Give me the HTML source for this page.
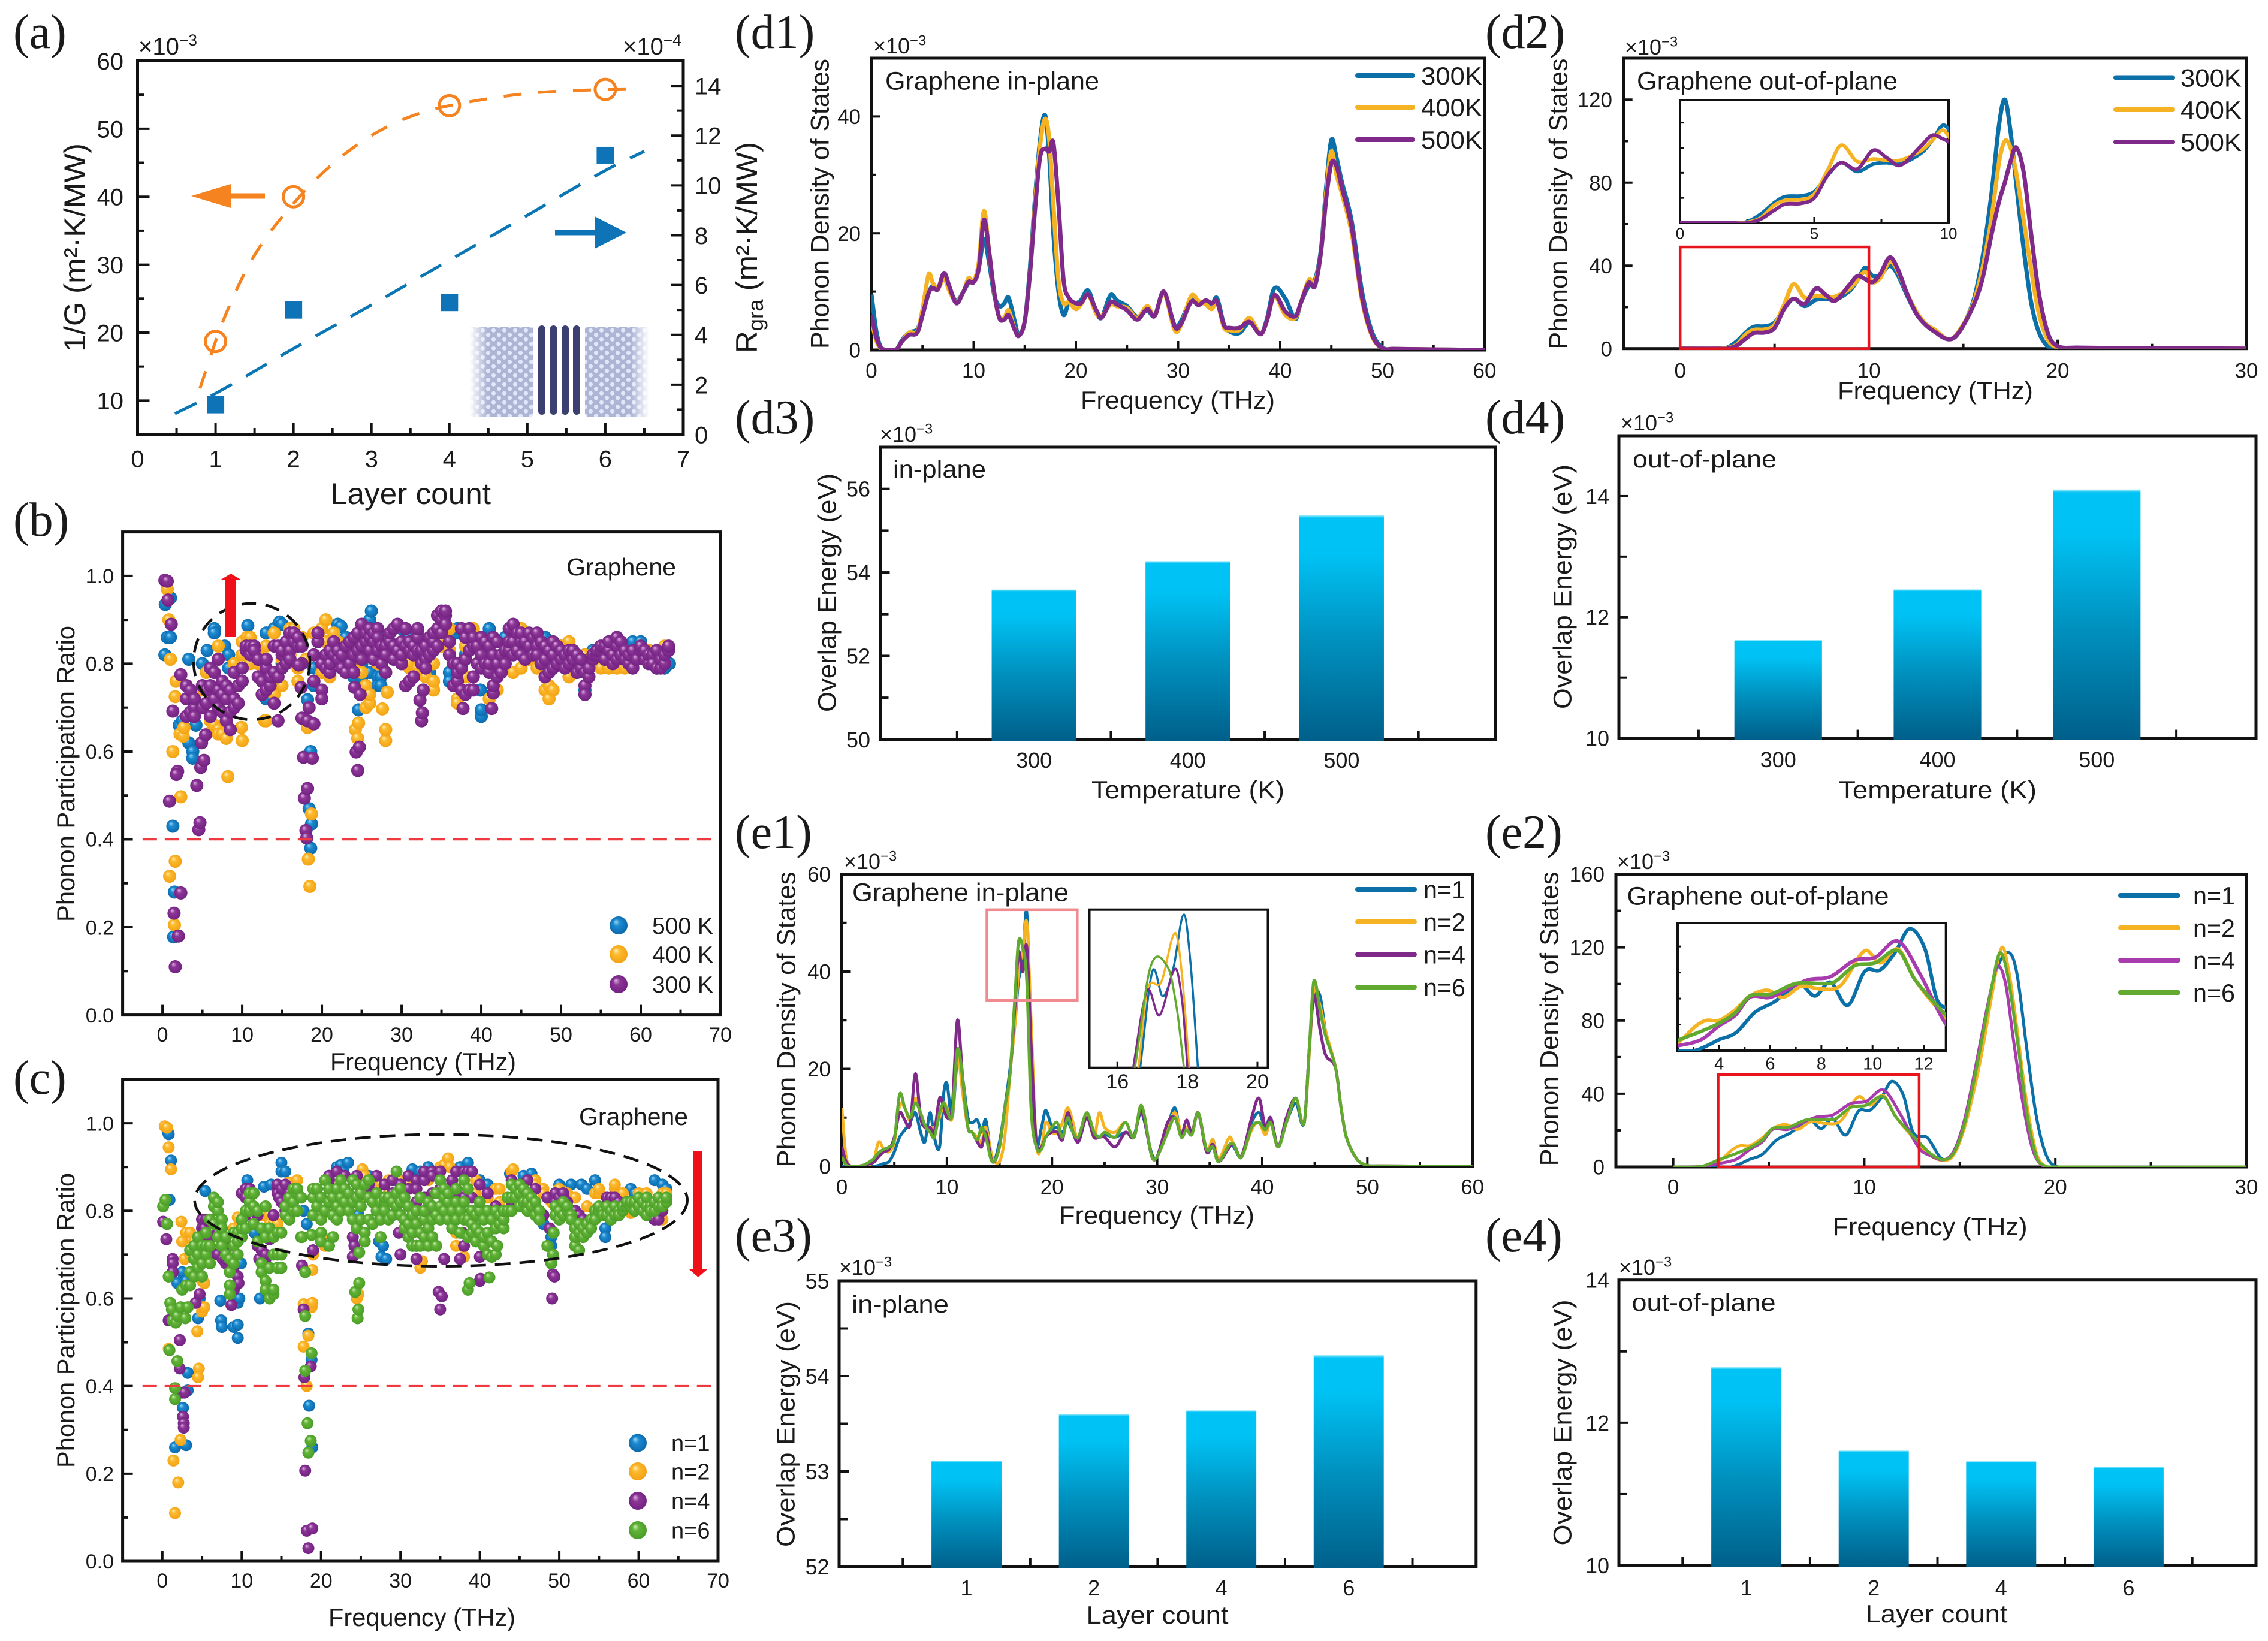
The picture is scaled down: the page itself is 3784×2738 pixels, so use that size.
<!DOCTYPE html>
<html lang="en">
<head>
<meta charset="utf-8">
<title>Phonon analysis of graphene</title>
<style>
html,body{margin:0;padding:0;background:#fff;}
svg{display:block;}
text{font-family:"Liberation Sans",sans-serif;fill:#1a1a1a;}
text.serif{font-family:"Liberation Serif",serif;}
</style>
</head>
<body>
<svg id="figure" xmlns="http://www.w3.org/2000/svg" width="3784" height="2738" viewBox="0 0 3784 2738">
<defs>
<radialGradient id="ball-blue" cx="50%" cy="50%" r="55%" fx="34%" fy="28%"><stop offset="0" stop-color="#9ad6f6"/><stop offset=".35" stop-color="#1c8ad0"/><stop offset="1" stop-color="#0a65a8"/></radialGradient>
<radialGradient id="ball-orange" cx="50%" cy="50%" r="55%" fx="34%" fy="28%"><stop offset="0" stop-color="#fff0b8"/><stop offset=".35" stop-color="#fcb92e"/><stop offset="1" stop-color="#f2a010"/></radialGradient>
<radialGradient id="ball-purple" cx="50%" cy="50%" r="55%" fx="34%" fy="28%"><stop offset="0" stop-color="#e0b8e4"/><stop offset=".35" stop-color="#8c3696"/><stop offset="1" stop-color="#6f1f80"/></radialGradient>
<radialGradient id="ball-green" cx="50%" cy="50%" r="55%" fx="34%" fy="28%"><stop offset="0" stop-color="#cfeeb4"/><stop offset=".35" stop-color="#62b338"/><stop offset="1" stop-color="#479a24"/></radialGradient>
<linearGradient id="bar-fill" x1="0" y1="0" x2="0" y2="1"><stop offset="0" stop-color="#a8effc"/><stop offset=".012" stop-color="#00c3f5"/><stop offset=".18" stop-color="#00c1f3"/><stop offset=".55" stop-color="#0091bf"/><stop offset="1" stop-color="#005f8a"/></linearGradient>
<linearGradient id="fade-left" x1="0" y1="0" x2="1" y2="0"><stop offset="0" stop-color="#fff"/><stop offset=".28" stop-color="#fff" stop-opacity="0"/></linearGradient>
<linearGradient id="fade-right" x1="0" y1="0" x2="1" y2="0"><stop offset=".72" stop-color="#fff" stop-opacity="0"/><stop offset="1" stop-color="#fff"/></linearGradient>
<pattern id="lattice" width="18" height="15" patternUnits="userSpaceOnUse"><rect width="18" height="15" fill="#aeb5d4"/><circle cx="4.5" cy="3.75" r="3.6" fill="#dfe7fa"/><circle cx="13.5" cy="11.25" r="3.6" fill="#dfe7fa"/></pattern>
</defs>
</svg>
<script>
/* ---------- panel (a) ---------- */
const aLayers=[1,2,4,6];
const aInverseG=[18.7,40,53.4,55.8];
const aRgra=[1.2,5.0,5.3,11.2];
const aOrangeFitX=[.8,1.1,1.5,2,2.5,3,3.5,4,5,6,6.35];
const aOrangeFitY=[11.8,21.8,31.4,39,44.8,49,51.8,53.4,55.2,55.8,55.9];
const aBlueFitX=[.48,1,2,3,4,5,6,6.5];
const aBlueFitY=[.84,1.65,3.45,5.2,7,8.8,10.6,11.37];
const aXTicks=[0,1,2,3,4,5,6,7];
const aXMinor=[.5,1.5,2.5,3.5,4.5,5.5,6.5];
const aYTicks=[10,20,30,40,50,60];
const aYMinor=[15,25,35,45,55];
const aY2Ticks=[0,2,4,6,8,10,12,14];
const aY2Minor=[1,3,5,7,9,11,13];

/* ---------- panel (b): rows are [frequency, ratio, ratio, ...] ---------- */
const b500K=[[.3,.82],[.35,.935],[.6,.86],[1,.86],[1,.95],[1.3,.43],[1.5,.28],[1.4,.178],[2.1,.66],[2.5,.67],[3.3,.62],[3.8,.6,.585],[3.3,.81],[4.2,.66],[5,.8],[5.6,.83],[6.5,.88,.87],[7.8,.84],[8.3,.82,.79],[10,.82],[10.7,.887],[12,.8],[13,.72,.87],[14,.88],[14.7,.895],[15,.89,.8],[18.2,.718],[18.6,.6],[18.4,.47],[18.7,.435],[18.6,.38],[19,.79,.75],[20,.88],[21,.84],[22,.89],[22.4,.885],[23,.8,.86],[24,.77],[24.6,.695],[25,.77,.8],[26,.78,.9],[26.2,.92],[27,.77,.75,.82],[27.4,.77,.75],[28,.86],[30,.88],[31,.86],[32,.88,.87],[33,.78],[33.5,.78],[34,.85],[35,.9],[36,.78,.76],[36.8,.87],[37,.88],[38,.82],[39,.84],[39.9,.74],[40,.68,.695],[41,.88,.8],[43,.86,.84],[45,.84],[47,.86],[48,.86],[49,.82],[50,.84],[51,.83],[52,.82],[53,.74,.73,.82],[54,.83],[56,.82],[58,.84],[59,.85],[60,.85],[61,.83],[62,.79,.8],[63,.79,.8],[63.6,.8]];
const b400K=[[.6,.97],[.8,.9],[1,.81],[1.3,.6],[1.7,.76],[1.6,.725],[.9,.316],[1.6,.35],[1.5,.205],[2.3,.497],[2.2,.64],[2.6,.635],[2.7,.655],[5,.74,.7],[5.5,.78],[6,.67,.73],[6.3,.65],[6.5,.66],[7,.65,.84,.64],[7.5,.64],[8,.63,.68],[8.2,.543],[9,.8],[9.9,.655],[10,.625,.82,.85],[10.6,.86],[11,.8,.86],[12,.83,.8],[12.8,.67],[13,.67,.84],[14,.87,.73],[15,.81,.75],[16,.88,.82],[16.5,.88],[17,.79,.76],[17.5,.86],[18,.81],[18.2,.655],[18.3,.355],[18.5,.293],[18.7,.458],[19,.87],[20,.88,.78],[20.5,.9,.85],[21,.77,.8],[21.5,.87],[22,.85],[23,.8],[24,.79],[24.2,.65],[24.5,.63],[24.6,.665],[25,.74,.78],[25.5,.75,.83,.7],[26,.71,.73],[27,.86,.8],[27.6,.697],[28,.625,.65,.78,.84],[28.2,.735],[29,.83],[30,.81,.8],[31,.79,.8],[32,.81,.79],[33,.85,.77],[34,.8,.74,.76],[35,.84,.87],[36,.83,.88],[37,.72,.71],[38,.84,.77],[39,.88],[40,.85],[41,.83,.72],[42,.81,.74],[43,.8],[44,.78,.84],[45,.79,.88],[46,.85,.81],[47,.79],[48,.77,.74],[48.5,.72,.75],[49,.74,.83],[50,.84],[51,.85,.77],[52,.78,.8],[53,.82],[54,.8,.82],[55,.79,.83],[56,.79],[57,.79,.81],[58,.79,.83],[59,.81],[60,.84],[61,.83],[62,.81],[63,.84]];
const b300K=[[.3,.99],[.6,.988],[.7,.945],[1.1,.89],[.88,.487],[1.6,.11],[2,.18],[1.45,.232],[2.3,.278],[1.9,.555],[1.75,.548],[2.3,.775],[1.3,.692],[3,.68,.72,.75],[3.5,.69,.74],[4,.7,.68,.72],[4.3,.523],[4.55,.422],[4.7,.438],[4.8,.564],[5.2,.58],[4.9,.62],[5.4,.638],[5,.7,.75],[5.5,.71,.74],[6,.68,.75,.79],[6.5,.72,.78],[7,.7,.74,.81],[7.5,.69,.76,.73],[8,.67,.72,.75],[8.5,.65,.69,.74],[9,.72,.7,.78],[9.5,.71,.75],[10,.76,.79],[10.5,.83,.84],[11,.82,.84],[11.5,.84,.83],[12,.81,.77],[12.5,.73,.76],[13,.74,.79,.81],[13.5,.75,.77],[14,.71,.84,.78],[14.5,.67,.84,.77],[15,.82,.79,.83],[15.5,.85,.8],[16,.83,.87,.81],[16.5,.85,.87],[17,.84,.86],[17.5,.84,.8],[17.8,.494],[18.2,.516],[18,.42],[18.1,.403],[17.7,.587],[18.8,.585],[17.5,.676],[18.2,.67],[19,.663],[18.4,.7],[17.4,.746],[17.1,.797],[19,.82,.76],[19.5,.85,.87],[20,.8,.74,.72],[20.5,.79,.82],[21,.78,.8,.83],[21.5,.82,.85],[22,.81,.83],[22.5,.79,.82],[23,.78,.84],[23.5,.85,.8],[24,.82,.86,.78],[24.5,.557,.83,.87],[24.3,.599],[24.7,.61],[24.1,.746],[24.8,.73],[25,.89,.81,.84],[25.5,.85,.87],[26,.83,.86,.88],[26.5,.81,.85,.87],[27,.83,.88,.86],[27.5,.8,.84],[28,.78,.84,.82],[28.5,.85,.87],[29,.81,.84,.88],[29.5,.83,.89],[30,.8,.82,.85],[30.5,.75,.84,.88],[31,.83,.85,.76],[31.5,.77,.82,.84],[32,.86,.83,.88],[32.5,.67,.8,.83],[32.6,.688],[32.3,.717],[32.7,.74],[33,.81,.84,.79],[33.5,.82,.86],[34,.83,.85,.87],[34.5,.84,.88,.91],[35,.87,.9,.92],[35.5,.91,.92,.89],[36,.85,.82],[36.5,.75,.8],[37,.76,.78,.8],[37.5,.74,.79,.88],[37.7,.698],[38,.73,.81,.86],[38.5,.74,.88,.83],[39,.74,.77,.84,.86],[39.5,.8,.84],[40,.82,.86,.79],[40.5,.8,.85],[41,.78,.8,.84],[41.3,.698],[41.5,.733,.75,.82,.86],[42,.77,.8,.85],[42.5,.78,.82],[43,.83,.8],[43.5,.83,.88,.85],[44,.89,.85,.82],[44.5,.83,.87],[45,.85,.82,.87],[45.5,.81,.85],[46,.84,.87],[46.5,.82,.86],[47,.84,.87,.82],[47.5,.8,.85],[48,.77,.81,.84],[48.5,.78,.83],[49,.79,.82,.85],[49.5,.8,.84],[50,.81,.83],[50.5,.79,.82],[51,.8,.83],[51.5,.81,.83],[52,.78,.82],[52.5,.79,.81],[53,.75,.78,.73],[53.5,.77,.79],[54,.81,.82],[54.5,.82,.83],[55,.83,.84],[55.5,.81,.84],[56,.83,.85],[56.5,.8,.82],[57,.81,.84,.86],[57.5,.82,.85],[58,.81,.83],[58.5,.8,.82],[59,.79,.83],[59.5,.81],[60,.83,.84],[60.5,.81,.83],[61,.8,.82],[61.5,.82,.8],[62,.79,.83],[62.5,.79,.81],[63,.8,.82],[63.5,.83,.84]];
const pprXTicks=[0,10,20,30,40,50,60,70];
const pprXMinor=[5,15,25,35,45,55,65];
const pprYTicks=[0,.2,.4,.6,.8,1];
const pprYMinor=[.1,.3,.5,.7,.9];
const pprLabels=['0.0','0.2','0.4','0.6','0.8','1.0'];
const pprThreshold=[.4];

/* ---------- panel (c) ---------- */
const cN1=[[.7,.98],[.8,.975],[1.1,.915],[.9,.825],[1.6,.26],[3,.265],[2.6,.35],[3.2,.43,.39],[2.2,.505],[1.9,.635],[2.5,.66],[3,.64],[4.5,.555],[4.7,.6],[5.4,.845],[6,.78],[7.3,.595],[7.4,.55],[7.5,.535],[9,.535],[9.5,.54,.51,.59],[9.7,.6],[9.9,.68],[10.7,.87],[11.6,.75],[12.3,.6],[12.8,.855],[13.7,.86],[15,.91,.89],[15.5,.89],[17.8,.8],[18.2,.77],[18.4,.52],[18.5,.355],[18.8,.46],[18.9,.26],[21,.88],[22,.9],[22.5,.905],[22.8,.89],[23.4,.91],[24.7,.79],[26,.88],[27.3,.73],[27.6,.695],[27.8,.72],[28.2,.69],[31.5,.895],[32.5,.89],[33.5,.9],[37.5,.9],[38.5,.91],[40,.87],[41,.86],[43.8,.885],[45.5,.88],[46.5,.885],[48,.77],[49,.74,.72],[50,.86],[51.5,.86],[52.8,.86],[53.5,.85],[54.5,.87],[55.8,.76,.74],[56.5,.78],[57.5,.79],[59,.85],[59.5,.84],[60,.82],[62,.87],[63,.86],[63.5,.85]];
const cN2=[[.3,.993],[.6,.99],[.8,.945],[1.1,.895],[.8,.485],[1.4,.23],[2,.18],[1.6,.11],[2.3,.277],[2.4,.775],[3,.75],[2.5,.73],[2.8,.69],[3.5,.75,.7],[4,.69,.73],[4.4,.525],[5,.57,.64,.58],[5.3,.58],[4.6,.44],[4.5,.42],[5.3,.635],[8,.72],[9,.76],[9.5,.785],[12.5,.79],[13,.79],[13.5,.79,.77],[14,.77],[14.5,.77],[16,.865,.84],[17,.87,.83],[17.8,.587,.49],[18.8,.58],[18.9,.59,.665],[18.4,.515],[18.2,.4],[19,.7],[20,.74,.78],[20.3,.74],[20.5,.72],[22,.86],[24.5,.6],[24.7,.61],[25.2,.895],[25.5,.88,.83],[26.5,.87],[27,.87],[27.5,.86],[28.5,.87,.84],[30,.87,.85],[31,.86],[32,.85],[32.5,.67],[32.7,.685],[33.5,.87],[34,.88],[35,.9],[35.5,.905],[36,.92],[36.2,.9],[37,.72,.85,.75],[38,.695],[39.5,.87,.84],[40,.86],[41,.83],[42,.85],[42.5,.85,.82],[44,.89],[44.2,.895],[45.5,.85],[47,.87,.86],[48,.85,.84],[49,.82],[50,.85],[51,.84],[52,.83,.78],[53.5,.81],[54.5,.84],[55,.84,.85],[56,.83],[57,.85,.86],[58,.84],[59,.795,.8],[60,.81,.83,.84],[61,.84,.81],[62,.79],[62.5,.79],[63,.78,.84],[63.5,.84]];
const cN4=[[.1,.775],[.5,.735],[.8,.55],[1,.55],[1.3,.69,.68,.66],[2.2,.505,.44],[2.5,.385],[2.8,.385],[2.6,.33],[2.7,.315,.305],[4.2,.59],[4.5,.71],[4.7,.61],[5,.78,.76,.74],[5.3,.76],[5.5,.72,.78],[6,.71,.74,.7],[7,.7,.75],[7.6,.69],[8,.68,.69,.72],[8.7,.585],[9,.62,.66,.7],[9.5,.65],[9.6,.635],[10,.78,.84],[10.5,.79,.85,.83],[11,.85,.82],[12,.72,.79],[12.2,.69],[12.5,.71],[13,.69,.7],[13.5,.735],[14,.79],[14.5,.85,.84,.86],[14.7,.83],[15,.82,.85],[15.5,.86,.8],[16,.83,.84],[17.6,.675],[17.8,.575],[17.9,.42],[18.7,.445],[18,.207],[18.2,.07],[18.9,.075],[18.4,.03],[19,.71],[21,.87,.88,.82],[22,.89,.85,.8],[23,.84,.88],[24,.74,.695],[24.2,.72],[24.5,.83,.88],[25,.84],[26,.85,.86],[27,.83,.88],[28,.82,.86],[29,.84,.87],[29.8,.75],[30,.7,.86,.82],[31,.88,.85],[32,.72,.69,.87,.85,.82],[33,.83,.87,.89],[34,.89,.88,.84,.8],[34.8,.615],[35,.575,.85,.89],[35.2,.605],[35.5,.69],[36,.86,.81],[36.5,.87],[37,.84,.89],[37.5,.69],[37.8,.75],[38,.72,.89,.84,.83],[38.5,.89],[39,.83,.89,.78],[40,.64,.695,.86,.82],[40.1,.645],[41,.84,.79],[41.1,.73],[42,.81],[44,.87,.82],[45,.86,.83],[46,.87,.81],[47,.85,.8],[48,.79],[48.5,.83],[48.8,.76],[49.1,.6],[49.2,.655],[49.4,.65],[49.5,.84,.82],[50,.83],[50.5,.84],[51,.82,.79],[52,.8],[52.5,.79],[53,.78,.75],[54,.76],[55,.79],[56,.83],[56.5,.82,.83],[57,.83],[57.5,.82],[58.5,.82],[59,.82],[60,.82],[61,.81,.82],[62,.8,.78],[62.5,.78],[63,.81,.8]];
const cN6=[[.1,.81],[.4,.825],[.6,.77],[.8,.65],[1,.59],[1.2,.575],[1.3,.55],[1.7,.545],[1.9,.56],[2.3,.58],[2.5,.62],[2.9,.555],[3.2,.58],[.9,.482],[1.9,.457],[1.6,.395,.37],[3,.63],[3.5,.66,.71,.63],[4,.65,.72,.69],[4.5,.67,.74,.7],[5,.68,.72,.65],[5.5,.7,.72,.75],[6,.68,.72,.78],[6.5,.81,.83,.77],[7,.74,.8,.82],[7.5,.78,.76,.72],[8,.7,.74],[8.5,.66,.69,.63,.61],[9,.68,.72,.75],[9.5,.7,.73,.75],[10,.74,.76,.78],[10.5,.76,.8],[11,.82,.84,.8],[11.5,.84,.81,.77],[12,.8,.73],[12.5,.76,.68,.66],[13,.74,.81,.64,.62],[13.5,.6,.67,.76],[14,.61,.62,.7,.74],[14.5,.67,.75,.7],[15,.75,.67,.7],[15.5,.79,.81],[16,.78,.83],[16.5,.8,.85,.82],[17,.84,.85,.8],[17.5,.83,.74],[17.6,.74],[18,.56,.66,.435],[18.3,.315],[18.7,.275],[18.4,.248],[18.8,.475,.745],[19,.83,.85,.79],[19.5,.85,.81],[20,.83,.78,.75,.73],[20.5,.87,.8],[21,.85,.82,.72],[21.5,.83,.79,.74],[22,.85,.81,.78],[22.5,.83,.87,.8],[23,.82,.85],[23.5,.84,.8],[24,.87,.82,.78],[24.3,.615],[24.5,.86,.83,.76],[24.6,.555],[24.7,.575],[24.8,.635,.705],[25,.81,.84,.78],[25.5,.86,.75,.73],[26,.83,.87,.78],[26.5,.82,.77],[27,.84,.8],[27.5,.82,.78,.74],[28,.82,.83,.8],[28.5,.83,.78],[29,.79,.82],[29.5,.81,.89,.84],[30,.85,.79,.82],[30.5,.83,.76,.78],[31,.81,.74,.77],[31.5,.79,.72,.75],[32,.77,.72,.8],[32.5,.83,.75,.72],[33,.74,.78,.8],[33.5,.76,.72,.82],[34,.74,.81,.78],[34.5,.72,.79,.84],[35,.81,.87,.78],[35.5,.8,.83,.85],[36,.78,.82,.84],[36.5,.8,.76],[37,.82,.85,.78],[37.5,.8,.75],[38,.78,.82,.87],[38.5,.62,.74,.78,.85],[38.7,.635],[39,.75,.77,.8],[39.5,.76,.73,.79],[40,.75,.8,.82],[40.5,.72,.78,.74],[41,.8,.75,.7],[41.2,.648],[41.5,.695,.78,.73],[42,.7,.76,.8],[42.2,.72],[42.5,.77,.79],[43,.76,.78,.8],[43.5,.8,.83],[44,.86,.83,.8],[44.5,.83,.85],[45,.81,.84,.86],[45.5,.82,.85],[46,.8,.84,.82],[46.5,.83,.81],[47,.82,.79],[47.5,.8,.78],[48.5,.72],[49,.68],[49.2,.7],[49.3,.75],[49.5,.81,.79],[50,.8,.78],[50.5,.79,.82],[51,.8,.81],[51.5,.79,.78],[52,.76,.72,.74],[52.5,.75,.71,.77],[53,.76,.74],[53.5,.75,.77],[54,.78,.76],[54.5,.8,.78],[55,.8,.81],[55.5,.8,.79],[56,.81,.79],[56.5,.8,.78],[57,.79,.81],[57.5,.8,.79],[58,.8,.81],[58.5,.81,.82],[59,.81,.82],[59.5,.82,.8],[60,.81,.83],[60.5,.8,.82],[61,.79,.81,.83],[61.5,.81,.8],[62,.8,.82],[62.5,.81,.83],[63,.82,.81],[63.5,.82,.83]];

/* ---------- panel (d1) ---------- */
const d1Freq=[0,.5,1,2,2.5,3,3.7,4.5,5,5.6, 6,6.5,7.1,7.6,8.3,9,9.5,10,10.5,11, 11.5,12,12.5,13,13.4,14,14.4,15,15.5,16, 16.5,17,17.4,17.8,18.3,18.8,19.3,20,20.5,21.2, 22,22.5,23.4,24,25,26,27,27.7,28.6,29.7, 30.3,31.3,32,32.7,33.3,33.8,34.5,35,36,37, 38.1,38.7,39.4,40.5,41.5,42,42.8,43.4,44,44.5, 45,45.5,46,47,48,49,50,51,60];
const d1T300=[9.5,3,.3,0,.2,1.7,3,3.6,6,9.8, 11,10.6,12.5,10.6,8.4,10,11.5,11.8,14,19, 15,9.5,7.5,8,9,5,2.6,5,14,26, 36,40.2,33,20,10,6,8,8,8.5,10.2, 6.5,5.5,9.4,8.5,7.5,5.7,6.8,5.8,9.8,4.1, 5,8.8,8.2,8.2,7.8,8.9,4.3,3.2,2.9,4.7, 2.8,5.3,10.5,8.8,5.3,8,11,12,17.5,28, 36,33,29,22,10,3,.4,.2,0];
const d1T400=[5,1.5,.2,0,.2,1.5,3,3.2,7,13, 11.5,10.5,12.3,10.2,8.3,10,12.3,11.8,15,23.8, 17,9.8,5.7,5.5,6.8,3.6,2.5,5,13,25, 35,39.6,36,25,12,8,8.2,7,7.8,9.5, 6.2,5.8,7.8,7.5,7.2,5.5,7.5,5.8,9.8,3.3, 4.3,9.3,8.4,7.8,7,8.2,3.8,3.4,3.4,5.5, 2.8,5,9.2,6,5.5,8,12,11.7,17,27, 34,30,27,20,8.5,2.3,.3,.2,0];
const d1T500=[6,2,.3,0,.2,1.5,2.6,3,6,9.8, 10.6,10.4,13.2,11,8,10,11.7,11.6,14,22.3, 17,10,5.5,5.2,6,3.5,2.4,5,13,24, 33,34.5,34,35.5,25,12,9,8,8,9.5, 6.8,5.5,8.2,7.8,6.8,5.2,7,5.8,10,3.9, 4.5,8.3,7.7,8.5,8,8.3,4.2,3.8,3.8,4.8, 2.7,5,9.4,6.6,5.8,8,11.5,11,17,26, 32,31.5,28,21,9,2.5,.3,.2,0];
const d1XTicks=[0,10,20,30,40,50,60];
const d1XMinor=[5,15,25,35,45,55];
const d1YTicks=[0,20,40];
const d1YMinor=[10,30];

/* ---------- panel (d2) ---------- */
const d2Freq=[0,2,2.5,3,3.5,3.9,4.5,5,5.5,6, 6.6,7.2,7.7,8.2,9,9.4,9.8,10.2,10.6,11.1, 11.5,12,12.5,13,13.5,14.2,14.7,15.5,16,16.5, 16.9,17.2,17.5,17.8,18.2,18.6,19,19.5,20,21, 25,30];
const d2T300=[0,0,.5,3.5,8,10.5,10.8,12.5,19,24, 20.5,23.5,24,23.5,28,33,39,35,35.5,40, 36,26,17,11.5,8,4.5,7,22,43,75, 108,120,105,80,48,22,8,.8,.2,0, 0,0];
const d2T400=[0,0,.3,2,7,9,9.3,11.5,21,31, 24.5,25.5,25,25,29,33,37,32,34,42, 38,27,18,12,9,4.5,7.5,21,38,63, 90,100,97,85,62,38,17,4,.6,.3, .1,0];
const d2T500=[0,0,0,1.5,5,7.5,7.8,10,19,24, 21.5,29,26,23,31,35,33.5,32,36,44, 39,27,17,11.5,8,4.5,7,20,33,55, 71,80,90,97,85,55,27,7,1.2,.5, .2,0];
const d2XTicks=[0,10,20,30];
const d2XMinor=[5,15,25];
const d2YTicks=[0,40,80,120];
const d2YMinor=[20,60,100];
const d2InsetXTicks=[0,5,10];
const d2InsetXMinor=[2.5,7.5];
const d2InsetYMinor=[10,20,30,40];

/* ---------- bars ---------- */
const tempCategories=['300','400','500'];
const d3Overlap=[53.59,54.27,55.37];
const d4Overlap=[11.62,12.46,14.11];
const layerCategories=['1','2','4','6'];
const e3Overlap=[53.11,53.6,53.64,54.22];
const e4Overlap=[12.78,11.61,11.46,11.38];
const d3YTicks=[50,52,54,56];
const d3YMinor=[51,53,55];
const d4YTicks=[10,12,14];
const d4YMinor=[11,13];
const e3YTicks=[52,53,54,55];
const e3YMinor=[52.5,53.5,54.5];
const e4YTicks=[10,12,14];
const e4YMinor=[11,13];

/* ---------- panel (e1) ---------- */
const e1Freq=[0,.4,1,2,3,3.5,4,4.5,5,5.5, 6,6.5,7,7.5,7.9,8.4,8.8,9.3,9.7,10, 10.5,11,11.5,12,12.4,12.9,13.3,13.7,14.3,15, 15.5,16,16.5,16.8,17.2,17.6,18,18.5,19,19.4, 20,20.5,21,21.5,22,22.5,23.3,24,24.5,25, 26,27,27.8,28.5,29.5,30,31,31.7,32.3,32.8, 33.3,33.9,34.7,35.3,35.8,36.9,37.3,38,39,39.7, 40.3,40.8,41.5,42.3,43.2,44,44.5,44.9,45.5,46, 47,47.5,48,49,50,51,60];
const e1N1=[0,0,0,0,0,.2,.6,1,3,6, 7.5,9,11,7,5,11,6,4,15,17, 10,22,18,10,9,9.5,7,9.5,1,5, 12,20,30,38,42,52,25,5,8,11.5, 8,8,7,9,7,6,10,7,6,6.5, 6,7,6.5,11,2.5,2,8,12,6,8, 7,11,3,4,1,4.5,4,2,9,11, 8,10,4,9,13,9,25,35,35,28, 20,12,6,1.5,.2,.1,0];
const e1N2=[12,2,0,.2,1,5,3.5,3,5,12.5, 12,9.5,14,11,8,8,8,10,13,12, 10,23,15,8,7,6,5,8,2,1, 6,19,30,40,44,50,30,5,4,9, 7,7,9,12,9,5,11,6,11,8, 7,9,6,12,2,2,8,11,7,8, 7,11,3,5.5,1.5,6,4.5,2,7.5,9, 6.5,9,4,9,14,9,24,36,33,28, 20,12,6,1.5,.2,.1,0];
const e1N4=[4,1,0,.2,.8,2,3,3.5,6,11, 9.5,8.5,19,10,8,8,7,14,12,10, 12,30,18,8,7,5,4,7,1,4, 12,19,34,44,40,45,25,5,4,6, 7,7,5.5,11,7,5,10,6,6,6, 4,7,6,11.5,2,2,9,10,6.5,9.5, 7,11,3,4.5,1,4,4.5,2,10,14, 8,10,4,10,14,9,25,35,28,23, 20,12,6,1.5,.2,.1,0];
const e1N6=[2,.3,0,.2,1.5,2.8,3.5,4,5.5,14.8, 12,10,13,11,8.5,7,6,11,13,11.5, 10.5,24,18,8,7,5.5,8,6,1,4, 12,19,36,46,45,38,12,4,3.5,6, 8,9,6,10,7,6,11,7,6,7, 6,9,6,12.5,2,2,7,10,6,7.5, 6.5,11,3.5,4,1,4.5,4.5,1.8,8,9, 7.5,9,4,9,14,9,25,38,32,27, 20,12,6,1.5,.2,.1,0];
const e1XTicks=[0,10,20,30,40,50,60];
const e1XMinor=[5,15,25,35,45,55];
const e1YTicks=[0,20,40,60];
const e1YMinor=[10,30,50];
const e1InsetF1=[16.5,16.65,17,17.3,17.6,17.9,18.1,18.3];
const e1InsetV1=[30,34,45.6,42.6,46,52.4,46,34];
const e1InsetF2=[16.4,16.6,16.85,17.25,17.65,17.85,18.05];
const e1InsetV2=[30,34,43.3,44.3,50.2,45,34];
const e1InsetF4=[16.3,16.45,16.85,17.2,17.65,17.85,18];
const e1InsetV4=[30,34,43.3,40.3,45.9,42,34];
const e1InsetF6=[16.3,16.5,16.95,17.45,17.7,17.9];
const e1InsetV6=[30,34,46.2,46,41,34];
const e1InsetXTicks=[16,18,20];

/* ---------- panel (e2) ---------- */
const e2F1=[0,3,3.47,4,4.65,5.4,6.1,6.6,7.2,7.75,8.35,9.03,9.7,10.3,10.9,11.45,12.05,12.55,13.3,14,14.5,15,15.5,16,16.5,17,17.6,18,18.5,19,19.5,20,21,30];
const e2V1=[0,0,1.6,4.2,6.8,14.7,18.4,22,25.3,21,26.3,17.4,30.5,31,38,46.8,39,19,16,5,5,14,35,60,90,110,117,105,65,28,7,.5,0,0];
const e2F2=[0,1.5,2.4,3.1,3.5,4,4.65,5.2,5.9,6.5,7.2,8,8.75,9.7,10.3,11,11.65,12.85,13.5,14.2,14.7,15.2,15.7,16.2,16.7,17.2,17.6,18,18.5,19,19.4,20,30];
const e2V2=[0,.3,3.2,9.5,11.6,11.6,15.8,21,23.2,20.5,24.7,23.7,25,38.4,33.7,39,27.4,12.6,6,3.5,7,20,40,65,95,120,105,75,35,8,1,0,0];
const e2F4=[0,1.5,2.4,3.3,4,4.65,5.2,6,7,7.55,8.35,9.3,10.1,11,11.85,12.85,13.5,14.2,14.7,15.2,15.7,16.2,16.7,17,17.4,17.8,18.3,18.8,19.3,20,30];
const e2V4=[0,.3,1.9,4.2,9.5,13.7,20.5,20.5,25.3,27.4,28.4,34.7,35.8,42,29.5,10.5,6,4,9,24,48,75,100,110,100,70,35,10,1,0,0];
const e2F6=[0,1.5,2.4,3.3,4,4.65,5.2,6,7,8,8.5,9.3,10.1,11,11.65,12.85,13.5,14.2,14.7,15.2,15.7,16.2,16.7,17.1,17.5,18,18.5,19,19.4,20,30];
const e2V6=[0,.4,4,7.4,10.5,14.7,21,21.6,25.8,25.8,26.3,32.6,33.7,38.4,27.4,13.7,7,4,8,22,45,72,100,117,105,70,30,6,.8,0,0];
const e2XTicks=[0,10,20,30];
const e2XMinor=[5,15,25];
const e2YTicks=[0,40,80,120,160];
const e2YMinor=[20,60,100,140];
const e2InsetXTicks=[4,6,8,10,12];
const e2InsetXMinor=[3,5,7,9,11];
const e2InsetYMinor=[10,20,30,40];

/* ---------- colours ---------- */
const BLUE='#0b6fa8',ORANGE='#f5b324',PURPLE='#7f2a8a',GREEN='#62a92f',MAGENTA='#a83cae';
const SVGNS='http://www.w3.org/2000/svg';
const root=document.getElementById('figure');
let clipCount=0;

function add(parent,tag,attrs,name,inter){
  const el=document.createElementNS(SVGNS,tag);
  for(const k in attrs){el.setAttribute(k,attrs[k]);}
  
  
  parent.appendChild(el);
  return el;
}
/* centred-on-y text; len forces exact rendered width */
function label(parent,name,str,x,y,fs,opt){
  opt=opt||{};
  const a={x:x,y:y+fs*.36,'font-size':fs,'text-anchor':opt.anchor||'start'};
  if(opt.len){a.textLength=opt.len;a.lengthAdjust='spacingAndGlyphs';}
  if(opt.rot){a.transform='rotate('+opt.rot+' '+x+' '+y+')';}
  if(opt.serif){a.class='serif';}
  const t=add(parent,'text',a,name);
  if(opt.html){t.innerHTML=str;}else{t.textContent=str;}
  return t;
}
function panelLetter(str,x,baseline){
  const t=add(root,'text',{x:x,y:baseline,'font-size':80,class:'serif'},'panel-label-'+str.replace(/[()]/g,''));
  t.textContent=str;
}
function multiplier(str,exp,x,baseline,fs,name){
  const t=add(root,'text',{x:x,y:baseline,'font-size':fs},name);
  t.innerHTML='×10<tspan dy="'+(-fs*.38)+'" font-size="'+(fs*.66)+'">−'+exp+'</tspan>';
}
function makeAxes(c){
  const g=add(root,'g',{},c.name);
  const [x0,y0,x1,y1]=c.box;
  const sx=v=>x0+(v-c.xDom[0])/(c.xDom[1]-c.xDom[0])*(x1-x0);
  const sy=v=>y1-(v-c.yDom[0])/(c.yDom[1]-c.yDom[0])*(y1-y0);
  const sy2=c.y2Dom?(v=>y1-(v-c.y2Dom[0])/(c.y2Dom[1]-c.y2Dom[0])*(y1-y0)):null;
  const lw=c.lw||5;
  add(g,'rect',{x:x0,y:y0,width:x1-x0,height:y1-y0,fill:c.fill||'none',stroke:'#111','stroke-width':lw},c.name+'-frame');
  const maj=c.majLen||17,min=c.minLen||9,tw=c.tickW||4;
  const tick=(x1a,y1a,x2a,y2a,n)=>add(g,'line',{x1:x1a,y1:y1a,x2:x2a,y2:y2a,stroke:'#111','stroke-width':tw},n);
  (c.xTicks||[]).forEach(v=>tick(sx(v),y1,sx(v),y1-maj,c.name+'-x-tick'));
  (c.xMinor||[]).forEach(v=>tick(sx(v),y1,sx(v),y1-min,c.name+'-x-minor-tick'));
  (c.yTicks||[]).forEach(v=>tick(x0,sy(v),x0+maj,sy(v),c.name+'-y-tick'));
  (c.yMinor||[]).forEach(v=>tick(x0,sy(v),x0+min,sy(v),c.name+'-y-minor-tick'));
  if(sy2){
    (c.y2Ticks||[]).forEach(v=>tick(x1,sy2(v),x1-maj,sy2(v),c.name+'-y2-tick'));
    (c.y2Minor||[]).forEach(v=>tick(x1,sy2(v),x1-min,sy2(v),c.name+'-y2-minor-tick'));
  }
  if(c.xLabelY){
    (c.xLabelTicks||c.xTicks).forEach((v,i)=>label(g,c.name+'-x-tick-label',c.xLabels?c.xLabels[i]:String(v),sx(v),c.xLabelY,c.tickFs||35,{anchor:'middle'}));
  }
  if(c.yLabelRight){
    c.yTicks.forEach((v,i)=>label(g,c.name+'-y-tick-label',c.yLabels?c.yLabels[i]:String(v),c.yLabelRight,sy(v),c.tickFs||35,{anchor:'end'}));
  }
  const clipId='clip-'+(++clipCount);
  const defs=root.querySelector('defs');
  const cp=add(defs,'clipPath',{id:clipId},c.name+'-clip');
  add(cp,'rect',{x:x0,y:y0,width:x1-x0,height:y1-y0},c.name+'-clip-area');
  return {g,sx,sy,sy2,clipId,c};
}
/* Catmull-Rom through the knots */
function splinePath(pts){
  let d='M'+pts[0][0].toFixed(1)+' '+pts[0][1].toFixed(1);
  for(let i=0;i<pts.length-1;i++){
    const p0=pts[Math.max(i-1,0)],p1=pts[i],p2=pts[i+1],p3=pts[Math.min(i+2,pts.length-1)];
    const h=(p2[0]-p1[0])/3;
    const m1=(p2[1]-p0[1])/Math.max(p2[0]-p0[0],.001);
    const m2=(p3[1]-p1[1])/Math.max(p3[0]-p1[0],.001);
    d+='C'+(p1[0]+h).toFixed(1)+' '+(p1[1]+m1*h).toFixed(1)+' '+(p2[0]-h).toFixed(1)+' '+(p2[1]-m2*h).toFixed(1)+' '+p2[0].toFixed(1)+' '+p2[1].toFixed(1);
  }
  return d;
}
function curve(ax,xs,ys,color,width,name,dash,sy){
  const f=sy||ax.sy;
  const pts=xs.map((x,i)=>[ax.sx(x),f(ys[i])]);
  const a={d:splinePath(pts),fill:'none',stroke:color,'stroke-width':width,'stroke-linejoin':'round','clip-path':'url(#'+ax.clipId+')'};
  if(dash){a['stroke-dasharray']=dash;}
  return add(ax.g,'path',a,name);
}
function scatter(ax,rows,grad,name,radius){
  rows.forEach(r=>{
    for(let i=1;i<r.length;i++){
      add(ax.g,'circle',{cx:ax.sx(r[0]),cy:ax.sy(r[i]),r:radius,fill:'url(#'+grad+')'},name);
    }
  });
}
function bars(ax,vals,width,name){
  vals.forEach((v,i)=>{
    const xc=ax.sx(i+1),half=(ax.sx(width)-ax.sx(0))/2,top=ax.sy(v);
    add(ax.g,'rect',{x:xc-half,y:top,width:half*2,height:ax.c.box[3]+3-top,fill:'url(#bar-fill)'},name+'-'+i);
  });
}
function legendLines(parent,name,labels,colors,x1,x2,ys,tx,fs,sw,lens){
  labels.forEach((s,i)=>{
    const g=add(parent,'g',{},name+'-entry');
    add(g,'line',{x1:x1,y1:ys[i],x2:x2,y2:ys[i],stroke:colors[i],'stroke-width':sw,'stroke-linecap':'round'},name+'-swatch');
    label(g,name+'-label',s,tx,ys[i],fs,{len:lens});
  });
}
function legendBalls(parent,name,labels,grads,x,ys,tx,fs){
  labels.forEach((s,i)=>{
    const g=add(parent,'g',{},name+'-entry');
    add(g,'circle',{cx:x,cy:ys[i],r:15,fill:'url(#'+grads[i]+')'},name+'-swatch');
    label(g,name+'-label',s,tx,ys[i],fs);
  });
}
function dataRect(ax,x0,x1,v0,v1,color,w,name){
  add(ax.g,'rect',{x:ax.sx(x0),y:ax.sy(v1),width:ax.sx(x1)-ax.sx(x0),height:ax.sy(v0)-ax.sy(v1),fill:'none',stroke:color,'stroke-width':w},name);
}

/* ===== (a) ===== */
panelLetter('(a)',22,80);
multiplier('',3,231,91,40,'a-left-multiplier');
multiplier('',4,1039,91,40,'a-right-multiplier');
const axA=makeAxes({name:'panel-a',box:[229.5,101.5,1140,725],xDom:[0,7],yDom:[5,60],y2Dom:[0,15],xTicks:aXTicks,xMinor:aXMinor,yTicks:aYTicks,yMinor:aYMinor,y2Ticks:aY2Ticks,y2Minor:aY2Minor,xLabelY:765,yLabelRight:206,tickFs:40,majLen:20,minLen:11});
aY2Ticks.forEach(v=>label(axA.g,'panel-a-y2-tick-label',String(v),1159,axA.sy2(v),40));
label(root,'a-x-axis-title','Layer count',685,823,50,{anchor:'middle',len:268});
label(root,'a-y-axis-title','1/G (m²·K/MW)',124,413,50,{anchor:'middle',rot:-90,len:348});
label(root,'a-y2-axis-title','R<tspan dy="10" font-size="36">gra</tspan><tspan dy="-10"> (m²·K/MW)</tspan>',1245,413,50,{anchor:'middle',rot:-90,len:352,html:true});
curve(axA,aOrangeFitX,aOrangeFitY,'#f5831f',5,'a-orange-fit-line','30 28');
curve(axA,aBlueFitX,aBlueFitY,'#0b76b4',5,'a-blue-fit-line','40 27',axA.sy2);
aLayers.forEach((x,i)=>add(axA.g,'circle',{cx:axA.sx(x),cy:axA.sy(aInverseG[i]),r:17,fill:'none',stroke:'#f5831f','stroke-width':5},'a-inverse-g-point'));
aLayers.forEach((x,i)=>add(axA.g,'rect',{x:axA.sx(x)-14.5,y:axA.sy2(aRgra[i])-14.5,width:29,height:29,fill:'#0e73b7'},'a-rgra-point'));
add(axA.g,'path',{d:'M442 322.5H385V307L319 327L385 347V331.5H442Z',fill:'#f5831f'},'a-left-arrow');
add(axA.g,'path',{d:'M926 383.5H992V361L1045 388L992 415V392.5H926Z',fill:'#0e73b7'},'a-right-arrow');
const inset3d=add(root,'g',{},'a-structure-inset');
add(inset3d,'rect',{x:783,y:545,width:107,height:150,fill:'url(#lattice)',rx:4},'a-left-lattice');
add(inset3d,'rect',{x:783,y:545,width:107,height:150,fill:'url(#fade-left)'},'a-left-lattice-fade');
add(inset3d,'rect',{x:976,y:545,width:107,height:150,fill:'url(#lattice)',rx:4},'a-right-lattice');
add(inset3d,'rect',{x:976,y:545,width:107,height:150,fill:'url(#fade-right)'},'a-right-lattice-fade');
[904,923.5,943,962].forEach(x=>add(inset3d,'rect',{x:x-6,y:543,width:12,height:149,rx:6,fill:'#3c4070'},'a-graphene-layer'));

/* ===== (b) ===== */
panelLetter('(b)',22,894);
const axB=makeAxes({name:'panel-b',box:[204.6,887.6,1202,1693.6],xDom:[-5,70],yDom:[0,1.1],xTicks:pprXTicks,xMinor:pprXMinor,yTicks:pprYTicks,yMinor:pprYMinor,yLabels:pprLabels,xLabelY:1726,yLabelRight:190,tickFs:34});
scatter(axB,b500K,'ball-blue','b-point-500k',11);
scatter(axB,b400K,'ball-orange','b-point-400k',11);
scatter(axB,b300K,'ball-purple','b-point-300k',11);
pprThreshold.forEach(v=>add(axB.g,'line',{x1:axB.sx(-2.5),y1:axB.sy(v),x2:axB.sx(69.1),y2:axB.sy(v),stroke:'#ee3a3f','stroke-width':3.5,'stroke-dasharray':'24 13'},'b-threshold-line'));
add(axB.g,'circle',{cx:axB.sx(11.2),cy:axB.sy(.805),r:97,fill:'none',stroke:'#111','stroke-width':4.5,'stroke-dasharray':'24 16'},'b-highlight-circle');
add(axB.g,'path',{d:'M376 1062V968H367L385 957L403 968H394V1062Z',fill:'#f0101a'},'b-red-arrow');
label(root,'b-graphene-label','Graphene',945,945,41,{len:183});
legendBalls(root,'b-legend',['500 K','400 K','300 K'],['ball-blue','ball-orange','ball-purple'],1032,[1544,1592,1642],1088,39);
label(root,'b-x-axis-title','Frequency (THz)',706,1771,42,{anchor:'middle',len:310});
label(root,'b-y-axis-title','Phonon Participation Ratio',109,1291,42,{anchor:'middle',rot:-90,len:494});

/* ===== (c) ===== */
panelLetter('(c)',22,1825);
const axC=makeAxes({name:'panel-c',box:[204.6,1801,1198,2605],xDom:[-5,70],yDom:[0,1.1],xTicks:pprXTicks,xMinor:pprXMinor,yTicks:pprYTicks,yMinor:pprYMinor,yLabels:pprLabels,xLabelY:2637,yLabelRight:190,tickFs:34});
scatter(axC,cN1,'ball-blue','c-point-n1',10);
scatter(axC,cN2,'ball-orange','c-point-n2',10);
scatter(axC,cN4,'ball-purple','c-point-n4',10);
scatter(axC,cN6,'ball-green','c-point-n6',10);
pprThreshold.forEach(v=>add(axC.g,'line',{x1:axC.sx(-2.5),y1:axC.sy(v),x2:axC.sx(69.5),y2:axC.sy(v),stroke:'#ee3a3f','stroke-width':3.5,'stroke-dasharray':'24 13'},'c-threshold-line'));
add(axC.g,'ellipse',{cx:axC.sx(35.1),cy:axC.sy(.824),rx:411,ry:110,fill:'none',stroke:'#111','stroke-width':4.5,'stroke-dasharray':'26 15'},'c-highlight-ellipse');
add(axC.g,'path',{d:'M1157 1921V2118H1150L1165 2131L1180 2118H1172V1921Z',fill:'#f0101a'},'c-red-arrow');
label(root,'c-graphene-label','Graphene',966,1862,41,{len:182});
legendBalls(root,'c-legend',['n=1','n=2','n=4','n=6'],['ball-blue','ball-orange','ball-purple','ball-green'],1064,[2407.5,2455,2504,2553],1120,38);
label(root,'c-x-axis-title','Frequency (THz)',704,2698,42,{anchor:'middle',len:312});
label(root,'c-y-axis-title','Phonon Participation Ratio',109,2203,42,{anchor:'middle',rot:-90,len:492});

/* ===== (d1) ===== */
panelLetter('(d1)',1226,80);
multiplier('',3,1457,89,36,'d1-multiplier');
const axD1=makeAxes({name:'panel-d1',box:[1454,97,2477,584],xDom:[0,60],yDom:[0,50],xTicks:d1XTicks,xMinor:d1XMinor,yTicks:d1YTicks,yMinor:d1YMinor,xLabelY:618,yLabelRight:1436,majLen:15,minLen:8});
curve(axD1,d1Freq,d1T300,BLUE,7,'d1-line-300k');
curve(axD1,d1Freq,d1T400,ORANGE,7,'d1-line-400k');
curve(axD1,d1Freq,d1T500,PURPLE,7,'d1-line-500k');
label(root,'d1-title','Graphene in-plane',1477,134,43,{len:357});
legendLines(root,'d1-legend',['300K','400K','500K'],[BLUE,ORANGE,PURPLE],2265,2357,[126,179,233],2371,42,8,102);
label(root,'d1-x-axis-title','Frequency (THz)',1965,667,42,{anchor:'middle',len:324});
label(root,'d1-y-axis-title','Phonon Density of States',1367,340,43,{anchor:'middle',rot:-90,len:484});

/* ===== (d2) ===== */
panelLetter('(d2)',2478,80);
multiplier('',3,2711,91,36,'d2-multiplier');
const axD2=makeAxes({name:'panel-d2',box:[2708.7,97,3748,581.7],xDom:[-3,30],yDom:[0,140],xTicks:d2XTicks,xMinor:d2XMinor,yTicks:d2YTicks,yMinor:d2YMinor,xLabelY:618,yLabelRight:2690,majLen:15,minLen:8});
curve(axD2,d2Freq,d2T300,BLUE,7,'d2-line-300k');
curve(axD2,d2Freq,d2T400,ORANGE,7,'d2-line-400k');
curve(axD2,d2Freq,d2T500,PURPLE,7,'d2-line-500k');
dataRect(axD2,0,10,0,49,'#e8141c',4.5,'d2-zoom-rectangle');
label(root,'d2-title','Graphene out-of-plane',2731,134,43,{len:435});
legendLines(root,'d2-legend',['300K','400K','500K'],[BLUE,ORANGE,PURPLE],3530,3625,[129.5,183,237],3638,42,8,102);
const axD2i=makeAxes({name:'d2-inset',box:[2803,167,3251,372],xDom:[0,10],yDom:[0,49],fill:'#fff',xTicks:d2InsetXTicks,xMinor:d2InsetXMinor,yMinor:d2InsetYMinor,xLabelY:389,tickFs:26,lw:4,tickW:3,majLen:10,minLen:6});
curve(axD2i,d2Freq,d2T300,BLUE,6,'d2-inset-line-300k');
curve(axD2i,d2Freq,d2T400,ORANGE,6,'d2-inset-line-400k');
curve(axD2i,d2Freq,d2T500,PURPLE,6,'d2-inset-line-500k');
label(root,'d2-x-axis-title','Frequency (THz)',3229,651,42,{anchor:'middle',len:326});
label(root,'d2-y-axis-title','Phonon Density of States',2599,340,43,{anchor:'middle',rot:-90,len:485});

/* ===== (d3) ===== */
panelLetter('(d3)',1226,723);
multiplier('',3,1468,737,36,'d3-multiplier');
const axD3=makeAxes({name:'panel-d3',box:[1468.5,746,2495,1233.8],xDom:[0,4],yDom:[50,57],xTicks:[1,2,3],xMinor:[.5,1.5,2.5,3.5],yTicks:d3YTicks,yMinor:d3YMinor,xLabels:tempCategories,xLabelY:1268,yLabelRight:1452,tickFs:36,majLen:16,minLen:14});
bars(axD3,d3Overlap,.55,'d3-bar');
label(root,'d3-title','in-plane',1490,782,41,{len:155});
label(root,'d3-x-axis-title','Temperature (K)',1982,1317,42,{anchor:'middle',len:322});
label(root,'d3-y-axis-title','Overlap Energy (eV)',1379,989,43,{anchor:'middle',rot:-90,len:398});

/* ===== (d4) ===== */
panelLetter('(d4)',2478,723);
multiplier('',3,2704,718,36,'d4-multiplier');
const axD4=makeAxes({name:'panel-d4',box:[2701,727,3764,1231.6],xDom:[0,4],yDom:[10,15],xTicks:[1,2,3],xMinor:[.5,1.5,2.5,3.5],yTicks:d4YTicks,yMinor:d4YMinor,xLabels:tempCategories,xLabelY:1267,yLabelRight:2685,tickFs:36,majLen:16,minLen:14});
bars(axD4,d4Overlap,.55,'d4-bar');
label(root,'d4-title','out-of-plane',2724,765,41,{len:240});
label(root,'d4-x-axis-title','Temperature (K)',3233,1317,42,{anchor:'middle',len:330});
label(root,'d4-y-axis-title','Overlap Energy (eV)',2606,979,43,{anchor:'middle',rot:-90,len:408});

/* ===== (e1) ===== */
panelLetter('(e1)',1226,1415);
multiplier('',3,1408,1450,36,'e1-multiplier');
const axE1=makeAxes({name:'panel-e1',box:[1404.5,1458.5,2456.7,1946],xDom:[0,60],yDom:[0,60],xTicks:e1XTicks,xMinor:e1XMinor,yTicks:e1YTicks,yMinor:e1YMinor,xLabelY:1980,yLabelRight:1386,majLen:15,minLen:8});
curve(axE1,e1Freq,e1N1,BLUE,5,'e1-line-n1');
curve(axE1,e1Freq,e1N2,ORANGE,5,'e1-line-n2');
curve(axE1,e1Freq,e1N4,PURPLE,5,'e1-line-n4');
curve(axE1,e1Freq,e1N6,GREEN,5,'e1-line-n6');
dataRect(axE1,13.8,22.4,34.1,52.7,'#f08a8e',4.5,'e1-zoom-rectangle');
label(root,'e1-title','Graphene in-plane',1422,1488,43,{len:361});
legendLines(root,'e1-legend',['n=1','n=2','n=4','n=6'],[BLUE,ORANGE,PURPLE,GREEN],2265,2360,[1484,1538,1592.5,1647],2375,42,8,70);
const axE1i=makeAxes({name:'e1-inset',box:[1817.5,1517.7,2115.5,1781.7],xDom:[15.2,20.3],yDom:[34,53],fill:'#fff',xTicks:e1InsetXTicks,xLabelY:1804,tickFs:34,lw:4,tickW:3,majLen:10,minLen:6});
curve(axE1i,e1InsetF1,e1InsetV1,BLUE,3.5,'e1-inset-line-n1');
curve(axE1i,e1InsetF2,e1InsetV2,ORANGE,3.5,'e1-inset-line-n2');
curve(axE1i,e1InsetF4,e1InsetV4,PURPLE,3.5,'e1-inset-line-n4');
curve(axE1i,e1InsetF6,e1InsetV6,GREEN,3.5,'e1-inset-line-n6');
label(root,'e1-x-axis-title','Frequency (THz)',1930,2027,42,{anchor:'middle',len:326});
label(root,'e1-y-axis-title','Phonon Density of States',1311,1701,43,{anchor:'middle',rot:-90,len:493});

/* ===== (e2) ===== */
panelLetter('(e2)',2478,1415);
multiplier('',3,2698,1450,36,'e2-multiplier');
const axE2=makeAxes({name:'panel-e2',box:[2696,1458.5,3748,1947],xDom:[-3,30],yDom:[0,160],xTicks:e2XTicks,xMinor:e2XMinor,yTicks:e2YTicks,yMinor:e2YMinor,xLabelY:1980,yLabelRight:2677,majLen:15,minLen:8});
curve(axE2,e2F1,e2V1,BLUE,5,'e2-line-n1');
curve(axE2,e2F2,e2V2,ORANGE,5,'e2-line-n2');
curve(axE2,e2F4,e2V4,MAGENTA,5,'e2-line-n4');
curve(axE2,e2F6,e2V6,GREEN,5,'e2-line-n6');
dataRect(axE2,2.35,12.87,0,50.4,'#e8141c',4.5,'e2-zoom-rectangle');
label(root,'e2-title','Graphene out-of-plane',2714.5,1494,43,{len:437});
legendLines(root,'e2-legend',['n=1','n=2','n=4','n=6'],[BLUE,ORANGE,MAGENTA,GREEN],3538,3634,[1494,1548,1602,1656],3659,42,8,70);
const axE2i=makeAxes({name:'e2-inset',box:[2799,1540,3246.7,1753],xDom:[2.38,12.87],yDom:[0,49],fill:'#fff',xTicks:e2InsetXTicks,xMinor:e2InsetXMinor,yMinor:e2InsetYMinor,xLabelY:1774,tickFs:29,lw:4,tickW:3,majLen:10,minLen:6});
curve(axE2i,e2F1,e2V1,BLUE,6,'e2-inset-line-n1');
curve(axE2i,e2F2,e2V2,ORANGE,6,'e2-inset-line-n2');
curve(axE2i,e2F4,e2V4,MAGENTA,6,'e2-inset-line-n4');
curve(axE2i,e2F6,e2V6,GREEN,6,'e2-inset-line-n6');
label(root,'e2-x-axis-title','Frequency (THz)',3220,2046,42,{anchor:'middle',len:325});
label(root,'e2-y-axis-title','Phonon Density of States',2584,1700,43,{anchor:'middle',rot:-90,len:491});

/* ===== (e3) ===== */
panelLetter('(e3)',1226,2088);
multiplier('',3,1400,2127,36,'e3-multiplier');
const axE3=makeAxes({name:'panel-e3',box:[1400,2137,2462.8,2614],xDom:[0,5],yDom:[52,55],xTicks:[1,2,3,4],xMinor:[.5,1.5,2.5,3.5,4.5],yTicks:e3YTicks,yMinor:e3YMinor,xLabels:layerCategories,xLabelY:2649,yLabelRight:1383.5,tickFs:36,majLen:16,minLen:14});
bars(axE3,e3Overlap,.55,'e3-bar');
label(root,'e3-title','in-plane',1421,2175,41,{len:162});
label(root,'e3-x-axis-title','Layer count',1931,2694,42,{anchor:'middle',len:237});
label(root,'e3-y-axis-title','Overlap Energy (eV)',1310,2376,43,{anchor:'middle',rot:-90,len:410});

/* ===== (e4) ===== */
panelLetter('(e4)',2478,2088);
multiplier('',3,2701,2127,36,'e4-multiplier');
const axE4=makeAxes({name:'panel-e4',box:[2701,2135.7,3764,2612],xDom:[0,5],yDom:[10,14],xTicks:[1,2,3,4],xMinor:[.5,1.5,2.5,3.5,4.5],yTicks:e4YTicks,yMinor:e4YMinor,xLabels:layerCategories,xLabelY:2649,yLabelRight:2685,tickFs:36,majLen:16,minLen:14});
bars(axE4,e4Overlap,.55,'e4-bar');
label(root,'e4-title','out-of-plane',2722.5,2172,41,{len:240});
label(root,'e4-x-axis-title','Layer count',3231,2692,42,{anchor:'middle',len:237});
label(root,'e4-y-axis-title','Overlap Energy (eV)',2606,2373.5,43,{anchor:'middle',rot:-90,len:410});
</script>
</body>
</html>
